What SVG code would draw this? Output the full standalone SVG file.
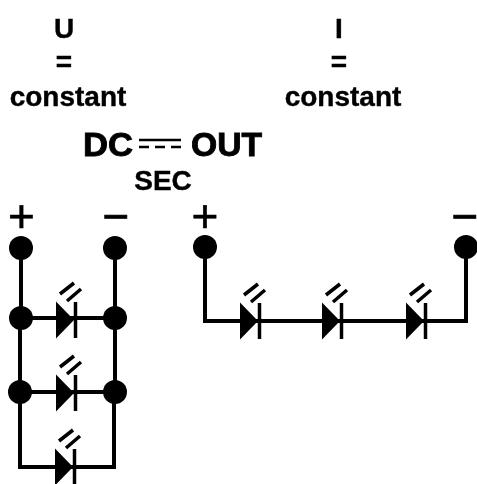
<svg xmlns="http://www.w3.org/2000/svg" width="477" height="484" viewBox="0 0 477 484">
<style>
.a{font-family:"Liberation Sans",Arial,sans-serif;font-weight:700;font-size:28px;fill:#000;stroke:#000;stroke-width:.4;text-anchor:middle}
.b{font-family:"Liberation Sans",Arial,sans-serif;font-weight:700;font-size:34px;fill:#000;stroke:#000;stroke-width:.9;text-anchor:middle}
.p{font-family:"Liberation Sans",Arial,sans-serif;font-size:46px;fill:#000;stroke:#000;stroke-width:.6;text-anchor:middle}
.w{fill:none;stroke:#000;stroke-width:4}
.t{fill:#000}
.r{stroke:#000;stroke-width:3.500;fill:none}
</style>
<defs>
<filter id="s" x="-5%" y="-5%" width="110%" height="110%"><feGaussianBlur stdDeviation="0.6"/></filter>
<g id="led">
<path class="t" d="M-10 -18.500L8 0L-10 18.500Z"/>
<path class="r" d="M9.500 -18V18"/>
<path class="r" d="M-6 -26L8 -37M1 -19L15 -31"/>
</g>
</defs>
<g filter="url(#s)">
<g id="labels">
<text class="a" x="64" y="38">U</text>
<text class="a" x="64" y="71">=</text>
<text class="a" x="68" y="106">constant</text>
<text class="a" x="339" y="38">I</text>
<text class="a" x="339" y="71">=</text>
<text class="a" x="343" y="106">constant</text>
<text class="b" x="108" y="156" textLength="50" lengthAdjust="spacingAndGlyphs">DC</text>
<text class="b" x="226.500" y="156" textLength="71" lengthAdjust="spacingAndGlyphs">OUT</text>
<text class="a" x="163" y="190">SEC</text>
<path d="M139 140H181" stroke="#000" stroke-width="2.500"/>
<path d="M139 147H149M155 147H165M171 147H181" stroke="#000" stroke-width="2.500"/>
<text class="p" x="21.500" y="232">+</text>
<text class="p" x="116" y="232">−</text>
<text class="p" x="205" y="232">+</text>
<text class="p" x="465" y="232">−</text>
</g>
<g id="connectors">
<path class="w" d="M21 248V318M20 318V467H114V392M115 392V248"/>
<path class="w" d="M21 318H115M20 392H115"/>
<path class="w" d="M205 247V321H466V247"/>
</g>
<g id="node-left-plus-top"><circle cx="21" cy="248" r="12"/></g>
<g id="node-left-minus-top"><circle cx="115" cy="248" r="12"/></g>
<g id="node-left-plus-1"><circle cx="21" cy="318" r="12"/></g>
<g id="node-left-minus-1"><circle cx="115" cy="318" r="12"/></g>
<g id="node-left-plus-2"><circle cx="20" cy="392" r="12"/></g>
<g id="node-left-minus-2"><circle cx="115" cy="392" r="12"/></g>
<g id="node-right-plus"><circle cx="205" cy="247" r="12"/></g>
<g id="node-right-minus"><circle cx="466" cy="247" r="12"/></g>
<g id="led-p1"><use href="#led" x="66" y="320"/></g>
<g id="led-p2"><use href="#led" x="66" y="393"/></g>
<g id="led-p3"><use href="#led" x="65" y="467"/></g>
<g id="led-s1"><use href="#led" x="250" y="321"/></g>
<g id="led-s2"><use href="#led" x="332" y="321"/></g>
<g id="led-s3"><use href="#led" x="416" y="321"/></g>
</g>
</svg>
